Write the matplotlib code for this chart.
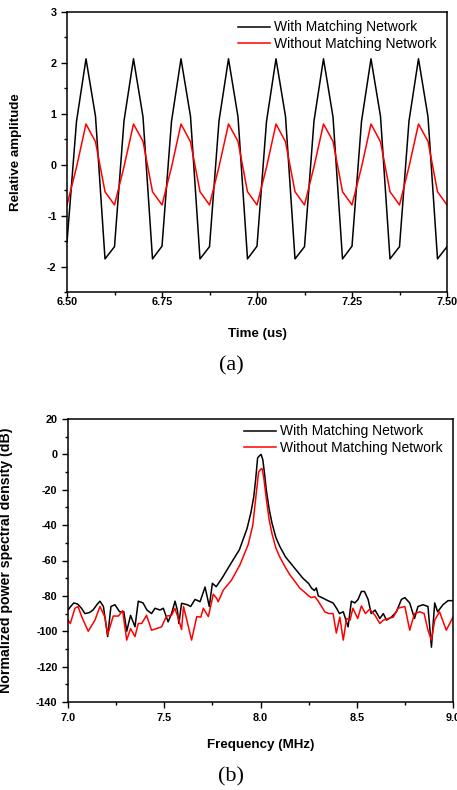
import numpy as np
import matplotlib
matplotlib.use('Agg')
import matplotlib.pyplot as plt
from matplotlib.ticker import MultipleLocator

plt.rcParams['font.family'] = ['Liberation Sans', 'DejaVu Sans']
plt.rcParams['axes.unicode_minus'] = False

# (a) time-domain signal, sampled every 0.025 us
time_us = np.linspace(6.5, 7.5, 41)
amp_with = [-1.52, 0.85, 2.08, 0.95, -1.85,
            -1.61, 0.86, 2.08, 0.94, -1.85,
            -1.60, 0.85, 2.08, 0.95, -1.85,
            -1.61, 0.86, 2.08, 0.94, -1.85,
            -1.60, 0.85, 2.08, 0.95, -1.85,
            -1.61, 0.86, 2.08, 0.94, -1.85,
            -1.60, 0.85, 2.08, 0.95, -1.85,
            -1.61, 0.86, 2.08, 0.94, -1.85,
            -1.61]
amp_without = [-0.79, -0.05, 0.80, 0.45, -0.53,
               -0.79, -0.04, 0.80, 0.46, -0.53,
               -0.79, -0.05, 0.80, 0.45, -0.53,
               -0.79, -0.04, 0.80, 0.46, -0.53,
               -0.79, -0.05, 0.80, 0.45, -0.53,
               -0.79, -0.04, 0.80, 0.46, -0.53,
               -0.79, -0.05, 0.80, 0.45, -0.53,
               -0.79, -0.04, 0.80, 0.46, -0.53,
               -0.79]

# (b) power spectral density
freq_with = [7.000, 7.014, 7.030, 7.050, 7.070, 7.088, 7.110, 7.130, 7.150, 7.166,
             7.184, 7.206, 7.223, 7.244, 7.268, 7.290, 7.305, 7.325, 7.348, 7.365,
             7.390, 7.410, 7.434, 7.452, 7.478, 7.495, 7.520, 7.538, 7.556, 7.568,
             7.576, 7.590, 7.620, 7.637, 7.660, 7.686, 7.712, 7.734, 7.750, 7.770,
             7.800, 7.850, 7.890, 7.930, 7.950, 7.965, 7.975, 7.985, 7.993, 8.003,
             8.012, 8.020, 8.030, 8.045, 8.060, 8.080, 8.100, 8.130, 8.160, 8.190,
             8.220, 8.250, 8.265, 8.280, 8.290, 8.300, 8.325, 8.350, 8.377, 8.395,
             8.410, 8.430, 8.455, 8.472, 8.490, 8.507, 8.524, 8.540, 8.559, 8.575,
             8.595, 8.620, 8.638, 8.654, 8.680, 8.706, 8.732, 8.750, 8.775, 8.800,
             8.818, 8.844, 8.870, 8.888, 8.905, 8.920, 8.948, 8.974, 9.000]
psd_with = [-88, -86, -84, -84.6, -87, -90, -89.5, -88, -85, -83,
            -86, -103, -86, -85, -89, -89, -100, -91, -97.5, -83,
            -84, -88, -90, -87, -88, -87, -94.7, -90, -83, -88,
            -95.6, -84.2, -85, -86, -82, -83.3, -75, -86, -72.9, -74.8,
            -70, -61, -54, -42, -33, -24, -14, -2, -1, 0,
            -3, -10, -20, -31, -39, -47, -52, -58, -62, -66,
            -70, -73, -75.6, -77, -75.5, -80, -81.3, -82.7, -84, -87,
            -90, -89, -97.5, -83, -84, -82, -77.5, -77.5, -82, -90,
            -88, -92.8, -90, -93.7, -92, -89, -82, -81, -84, -92.8,
            -86, -85, -86, -109, -84, -89, -85, -82.7, -82.7]

freq_without = [7.000, 7.012, 7.036, 7.052, 7.072, 7.105, 7.140, 7.166, 7.192, 7.206,
                7.235, 7.262, 7.284, 7.305, 7.325, 7.348, 7.365, 7.383, 7.408, 7.434,
                7.460, 7.486, 7.512, 7.538, 7.555, 7.573, 7.590, 7.600, 7.617, 7.642,
                7.669, 7.690, 7.703, 7.729, 7.755, 7.772, 7.780, 7.807, 7.850, 7.893,
                7.936, 7.960, 7.975, 7.990, 8.000, 8.008, 8.018, 8.030, 8.045, 8.060,
                8.080, 8.100, 8.130, 8.152, 8.180, 8.204, 8.230, 8.250, 8.265, 8.282,
                8.300, 8.334, 8.355, 8.377, 8.394, 8.412, 8.430, 8.447, 8.465, 8.480,
                8.505, 8.524, 8.545, 8.567, 8.595, 8.620, 8.638, 8.663, 8.690, 8.714,
                8.732, 8.750, 8.775, 8.800, 8.827, 8.850, 8.870, 8.888, 8.905, 8.930,
                8.965, 9.000]
psd_without = [-93.7, -95.6, -87, -86, -92, -100, -93.7, -86, -92, -102,
               -91.4, -91.4, -88.4, -105, -98.5, -103, -95.6, -95.6, -91, -99.4,
               -98.5, -97.5, -91.4, -91, -87, -92.7, -99, -86, -93.6, -105,
               -91.7, -92, -87, -91.7, -79, -81.4, -83.3, -76.7, -71, -62.5,
               -51, -40, -25, -10, -8.5, -8, -14, -25, -37, -45,
               -53, -58, -64, -68, -72, -75.6, -78, -80, -81, -80.4,
               -83, -89, -90, -90, -101, -92, -105, -92.8, -93.7, -87,
               -92.8, -85.7, -90, -87.6, -91, -95.6, -93.7, -92.8, -92, -87,
               -86.5, -86, -99.4, -90, -89, -90, -99.4, -105, -93.7, -89,
               -99.4, -92]

labels = ['With Matching Network', 'Without Matching Network']
W, H = 457, 790


def style_axes(ax, pad_x):
    for s in ax.spines.values():
        s.set_linewidth(1.1)
    ax.tick_params(which='both', direction='out', top=False, right=False, width=1.0)
    ax.tick_params(which='major', length=4, labelsize=7.8)
    ax.tick_params(axis='x', which='major', pad=pad_x)
    ax.tick_params(which='minor', length=2.5)
    for lab in ax.get_xticklabels() + ax.get_yticklabels():
        lab.set_fontweight('bold')


fig = plt.figure(figsize=(W / 100, H / 100), dpi=100)

# panel (a)
ax1 = fig.add_axes([67 / W, 1 - 292 / H, 380 / W, 280 / H])
ax1.plot(time_us, amp_with, color='black', lw=1.1, label=labels[0])
ax1.plot(time_us, amp_without, color='#ff0000', lw=1.1, label=labels[1])
ax1.set_xlim(6.5, 7.5)
ax1.set_ylim(-2.5, 3)
ax1.set_xticks([6.5, 6.75, 7.0, 7.25, 7.5])
ax1.set_xticklabels(['6.50', '6.75', '7.00', '7.25', '7.50'])
ax1.xaxis.set_minor_locator(MultipleLocator(0.125))
ax1.set_yticks([-2, -1, 0, 1, 2, 3])
ax1.yaxis.set_minor_locator(MultipleLocator(0.5))
style_axes(ax1, -0.5)
ax1.set_xlabel('Time (us)', fontsize=9.6, fontweight='bold')
ax1.set_ylabel('Relative amplitude', fontsize=9.6, fontweight='bold')
ax1.xaxis.set_label_coords(0.5, -0.129)
ax1.yaxis.set_label_coords(-0.118, 0.5)
ax1.legend(loc='upper left', bbox_to_anchor=(0.45, 0.97), frameon=False, fontsize=10,
           handlelength=2.3, handletextpad=0.3, labelspacing=0.2, borderpad=0, borderaxespad=0)

# panel (b)
ax2 = fig.add_axes([68 / W, 1 - 702 / H, 385 / W, 283 / H])
ax2.plot(freq_with, psd_with, color='black', lw=1.1, label=labels[0])
ax2.plot(freq_without, psd_without, color='#ff0000', lw=1.1, label=labels[1])
ax2.set_xlim(7.0, 9.0)
ax2.set_ylim(-140, 20)
ax2.xaxis.set_minor_locator(MultipleLocator(0.25))
ax2.yaxis.set_major_locator(MultipleLocator(20))
ax2.yaxis.set_minor_locator(MultipleLocator(10))
ax2.set_xticks([7.0, 7.5, 8.0, 8.5, 9.0])
ax2.set_xticklabels(['7.0', '7.5', '8.0', '8.5', '9.0'])
style_axes(ax2, 4)
ax2.set_xlabel('Frequency (MHz)', fontsize=9.6, fontweight='bold')
ax2.set_ylabel('Normalized power spectral density (dB)', fontsize=10.2, fontweight='bold')
ax2.xaxis.set_label_coords(0.5, -0.131)
ax2.yaxis.set_label_coords(-0.142, 0.5)
ax2.legend(loc='upper left', bbox_to_anchor=(0.457, 0.981), frameon=False, fontsize=10,
           handlelength=2.3, handletextpad=0.3, labelspacing=0.2, borderpad=0, borderaxespad=0)

fig.text(231 / W, 1 - 366 / H, '(a)', ha='center', va='center', fontsize=16,
         family='Liberation Serif')
fig.text(231 / W, 1 - 777 / H, '(b)', ha='center', va='center', fontsize=16,
         family='Liberation Serif')

fig.savefig('out.png', dpi=100)
